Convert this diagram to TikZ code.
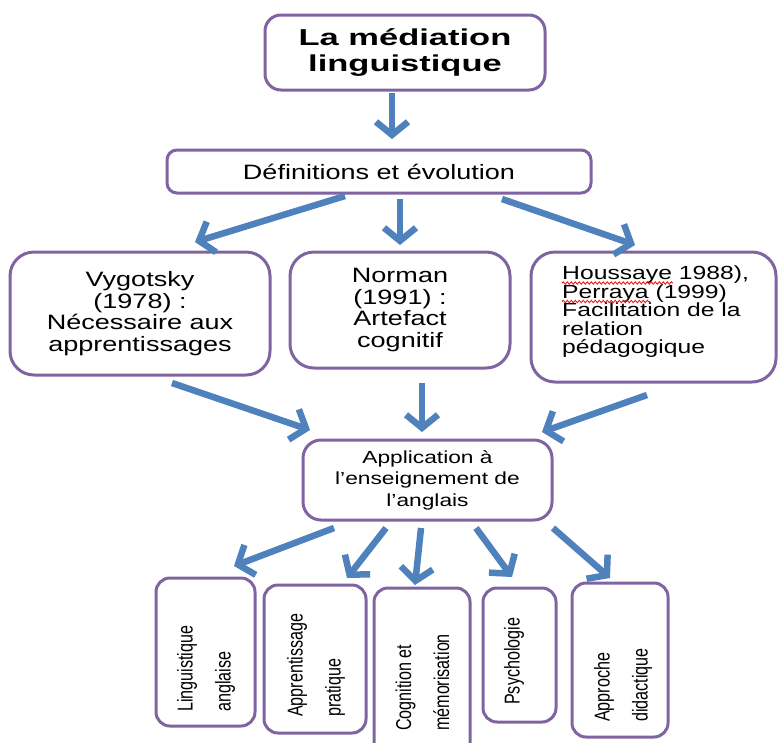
\documentclass[tikz,border=0pt]{standalone}
\usepackage{fontspec}
\setmainfont{Liberation Sans}
\newfontfamily\wfa[FakeStretch=1.5]{Liberation Sans}
\newfontfamily\wf[FakeStretch=1.3]{Liberation Sans}
\newfontfamily\nf[FakeStretch=0.75]{Liberation Sans}
\usetikzlibrary{arrows.meta,decorations.pathmorphing,calc}
\definecolor{boxpurple}{HTML}{8064A2}
\definecolor{arrblue}{HTML}{4F81BD}
\begin{document}
\begin{tikzpicture}[x=1pt,y=-1pt,
  box/.style={draw=boxpurple, line width=3pt, rounded corners=16pt, fill=white, inner sep=0pt},
  arr/.style={draw=arrblue, line width=6.5pt, -{Straight Barb[length=13pt,width=32pt]}},
  vtext/.style={rotate=90, align=left, inner sep=0pt, anchor=west, font=\nf\fontsize{21.5}{38}\selectfont},
  wavy/.style={draw=red, line width=0.8pt, decorate, decoration={snake, amplitude=1.2pt, segment length=4pt}}]
\useasboundingbox (0,0) rectangle (778,742);
\fill[white] (0,0) rectangle (778,742);

% boxes
\node[box, minimum width=280pt, minimum height=75pt, align=center,
  font=\wfa\bfseries\fontsize{23}{26}\selectfont] (title) at (405,52.5) {La médiation\\linguistique};
\node[box, rounded corners=10pt, minimum width=424pt, minimum height=43pt,
  font=\wf\fontsize{20.8}{22}\selectfont] (defs) at (379,171.5) {Définitions et évolution};
\node[box, rounded corners=24pt, minimum width=260pt, minimum height=123pt, align=center,
  font=\wf\fontsize{20.8}{21.5}\selectfont] (vyg) at (140,313.5) {Vygotsky\\(1978) :\\Nécessaire aux\\apprentissages};
\node[box, rounded corners=24pt, minimum width=220pt, minimum height=116pt, align=center,
  font=\wf\fontsize{20.8}{21.5}\selectfont] (norm) at (400,310) {Norman\\(1991) :\\Artefact\\cognitif};
\node[box, rounded corners=24pt, minimum width=245pt, minimum height=130pt] (hous) at (653.5,317) {};
\node[align=left, anchor=north west, inner sep=0pt,
  font=\wf\fontsize{19}{18.5}\selectfont] (thous) at (562,266) {Houssaye 1988),\\Perraya (1999)\\Facilitation de la\\relation\\pédagogique};
\node[box, rounded corners=18pt, minimum width=249pt, minimum height=80pt, align=center,
  font=\wf\fontsize{17.5}{21.5}\selectfont] (appl) at (427.5,480) {Application à\\l’enseignement de\\l’anglais};

\node[box, rounded corners=14pt, minimum width=99pt, minimum height=148pt] (ling) at (205.5,652) {};
\node[box, rounded corners=14pt, minimum width=102pt, minimum height=148pt] (appr) at (315,659) {};
\node[box, rounded corners=14pt, minimum width=96pt, minimum height=172pt] (cogn) at (422,674) {};
\node[box, rounded corners=14pt, minimum width=73pt, minimum height=134pt] (psy) at (519.5,655) {};
\node[box, rounded corners=14pt, minimum width=96pt, minimum height=154pt] (appro) at (620,660) {};

\node[vtext] (tling) at (206,712) {Linguistique\\anglaise};
\node[vtext] (tappr) at (316,717) {Apprentissage\\pratique};
\node[vtext] (tcogn) at (422.5,731) {Cognition et\\mémorisation};
\node[vtext] (tpsy) at (514,705) {Psychologie};
\node[vtext] (tappro) at (623,722) {Approche\\didactique};

% spelling marks
\coordinate (w1s) at ($(thous.north west)+(0,17)$);
\coordinate (w1e) at ($(thous.north west)+(111,17)$);
\coordinate (w2s) at ($(thous.north west)+(0,35.5)$);
\coordinate (w2e) at ($(thous.north west)+(88,35.5)$);
\draw[wavy] (w1s) -- (w1e);
\draw[wavy] (w2s) -- (w2e);

% arrow end points
\coordinate (a1s) at (392,93);   \coordinate (a1e) at (392,139);
\coordinate (a2s) at (345,196);  \coordinate (a2e) at (195,242);
\coordinate (a3s) at (400,199);  \coordinate (a3e) at (400,245);
\coordinate (a4s) at (502,199);  \coordinate (a4e) at (635,245);
\coordinate (a5s) at (172,383);  \coordinate (a5e) at (310,430);
\coordinate (a6s) at (422,383);  \coordinate (a6e) at (422,432);
\coordinate (a7s) at (647,395);  \coordinate (a7e) at (542,432);
\coordinate (b1s) at (334,528);  \coordinate (b1e) at (234,566);
\coordinate (b2s) at (386,528);  \coordinate (b2e) at (347,578);
\coordinate (b3s) at (421,528);  \coordinate (b3e) at (415,585);
\coordinate (b4s) at (476,528);  \coordinate (b4e) at (512,577);
\coordinate (b5s) at (553,528);  \coordinate (b5e) at (610,578);

\foreach \a in {a1,a2,a3,a4,a5,a6,a7,b1,b2,b3,b4,b5}
  \draw[arr] (\a s) -- (\a e);
\end{tikzpicture}
\end{document}
